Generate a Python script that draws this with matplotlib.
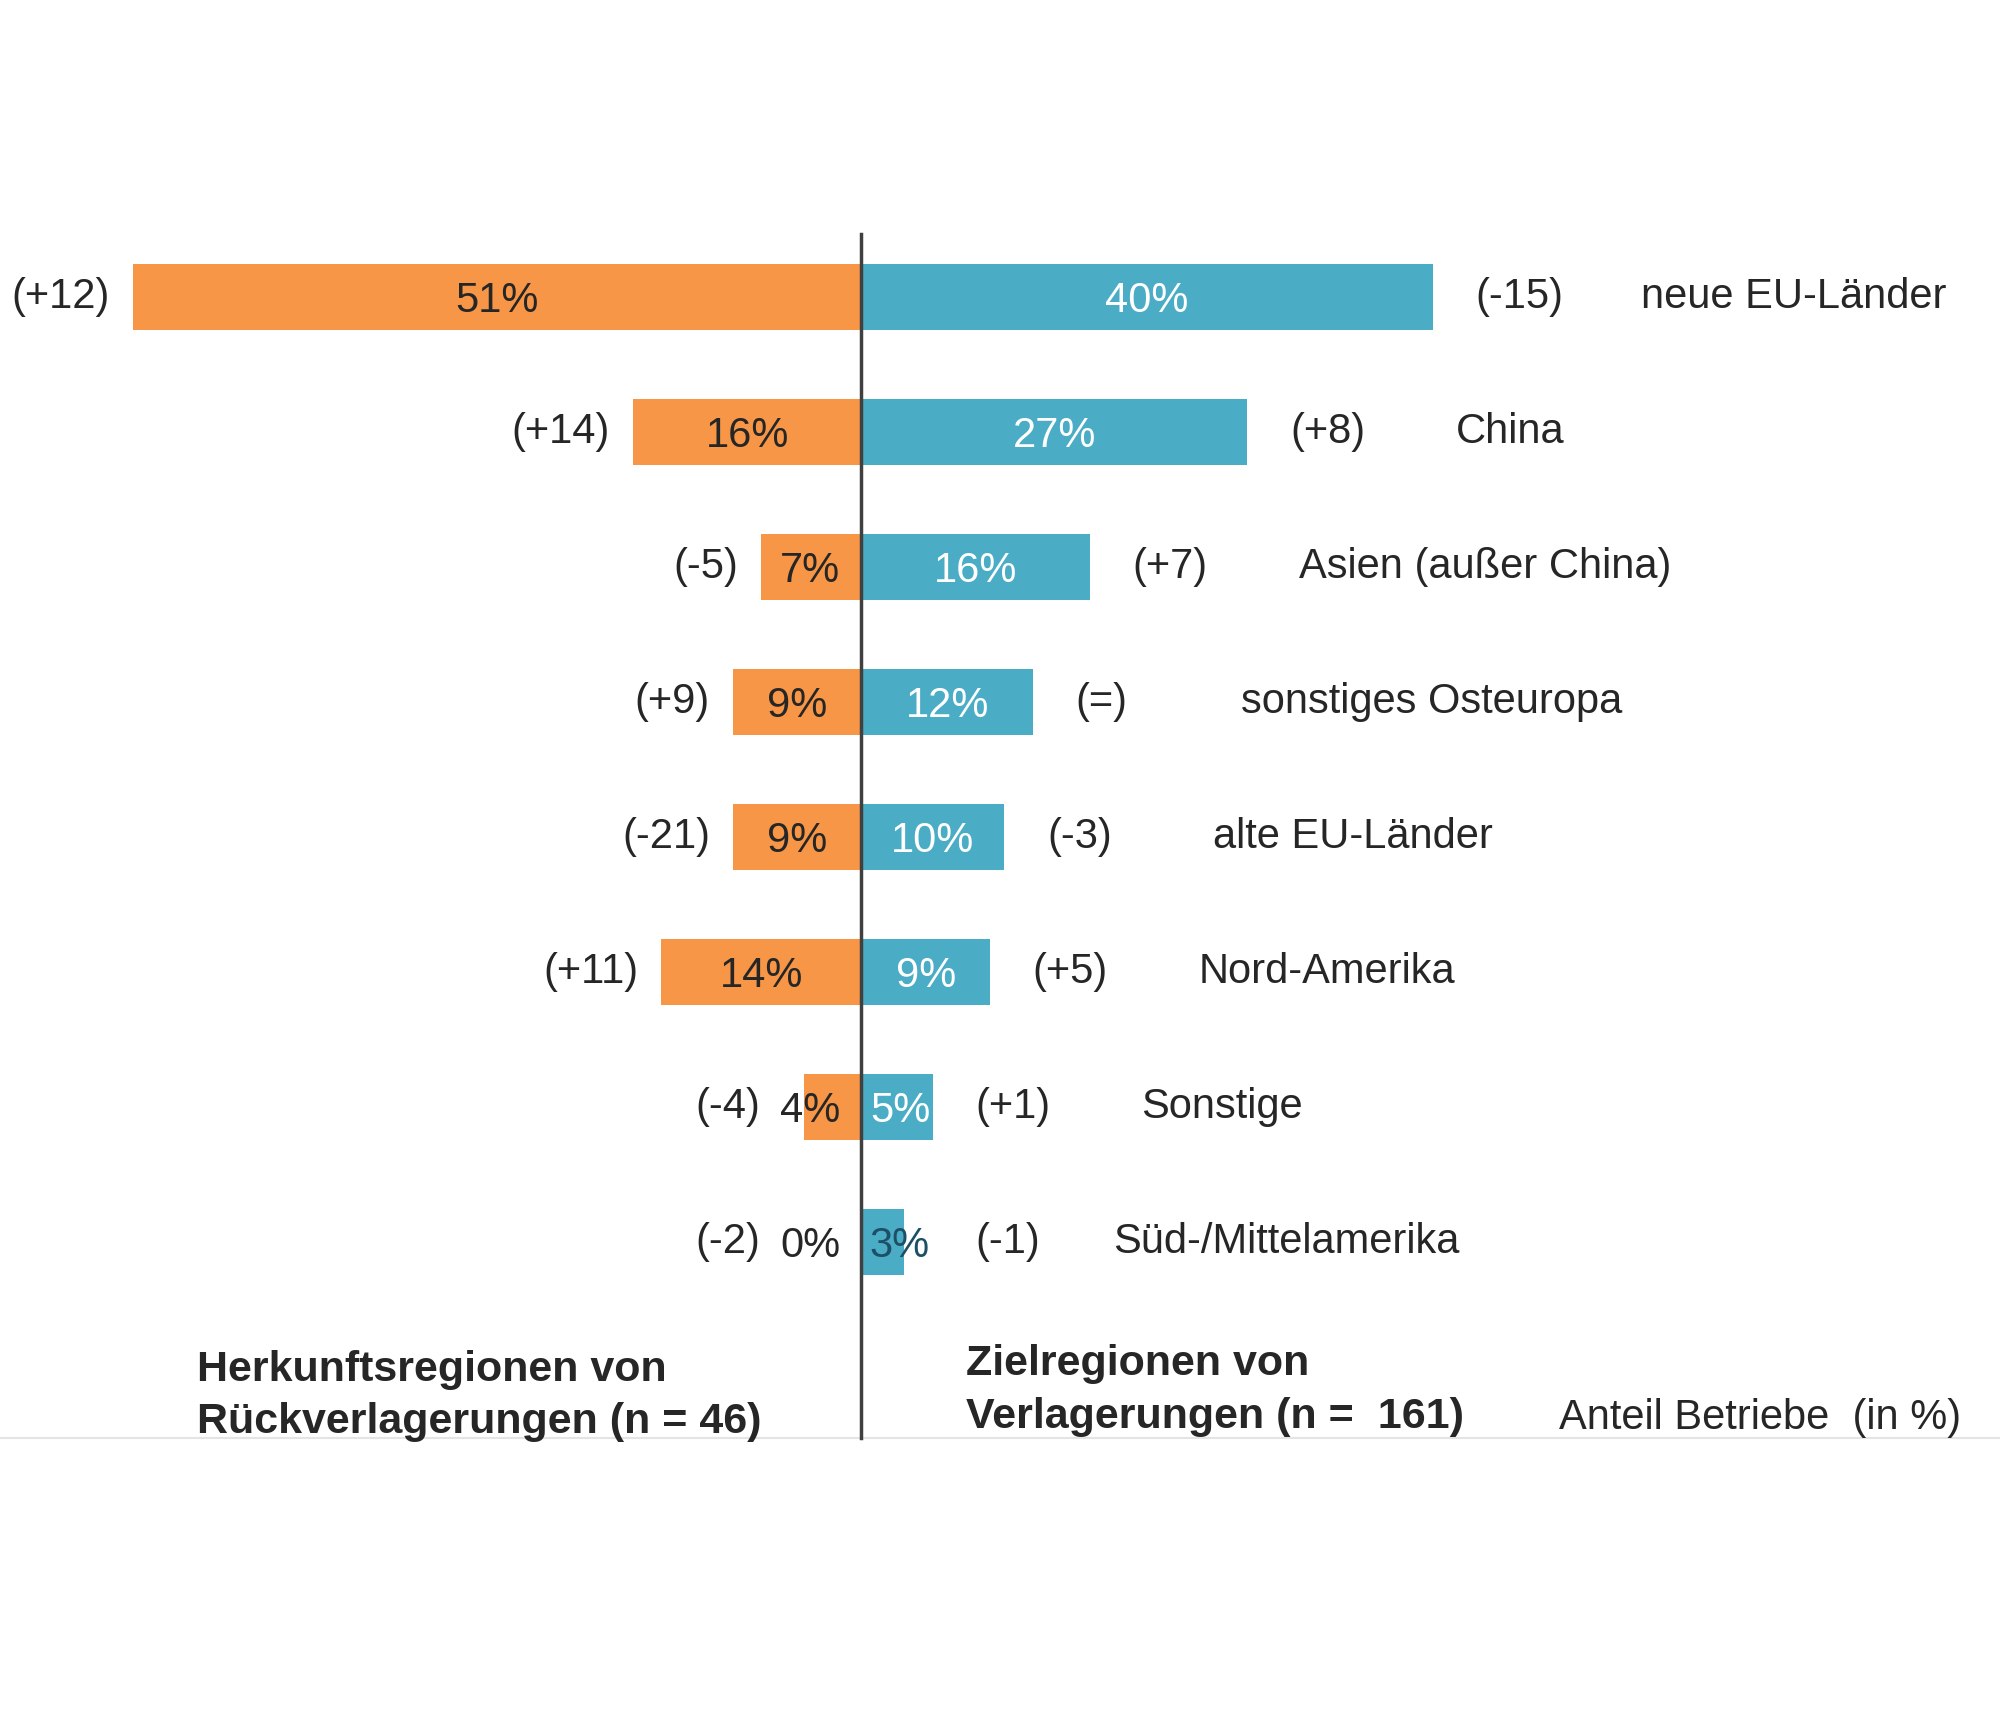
import matplotlib
matplotlib.use('Agg')
import matplotlib.pyplot as plt

plt.rcParams['font.family'] = ['Liberation Sans', 'DejaVu Sans']

# Data
regions = ['neue EU-Länder', 'China', 'Asien (außer China)', 'sonstiges Osteuropa',
           'alte EU-Länder', 'Nord-Amerika', 'Sonstige', 'Süd-/Mittelamerika']
back_share = [51, 16, 7, 9, 9, 14, 4, 0]          # Rückverlagerungen, %
back_change = ['(+12)', '(+14)', '(-5)', '(+9)', '(-21)', '(+11)', '(-4)', '(-2)']
out_share = [40, 27, 16, 12, 10, 9, 5, 3]         # Verlagerungen, %
out_change = ['(-15)', '(+8)', '(+7)', '(=)', '(-3)', '(+5)', '(+1)', '(-1)']

orange = '#F79646'
blue = '#4BACC6'
txt = '#262626'
fs = 30

fig = plt.figure(figsize=(20, 17.28), dpi=100)
ax = fig.add_axes([0, 0, 1, 1])
ax.set_xlim(-60.3, 79.7)
ax.set_ylim(10.6, -2.2)
ax.axis('off')

y = list(range(len(regions)))
ax.barh(y, [-v for v in back_share], height=0.49, color=orange, zorder=2)
ax.barh(y, out_share, height=0.49, color=blue, zorder=2)

for i in y:
    b, o = back_share[i], out_share[i]
    # value labels
    ax.text(-max(b / 2, 3.6), i + 0.03, f'{b}%', ha='center', va='center',
            fontsize=fs, color=txt, zorder=3)
    ax.text(max(o / 2, 2.7), i + 0.03, f'{o}%', ha='center', va='center',
            fontsize=fs, color='white' if o >= 5 else '#1d4f66', zorder=3)
    # changes vs. previous survey
    ax.text(-(max(b, 5.5) + 1.6), i, back_change[i], ha='right', va='center',
            fontsize=fs, color=txt)
    ax.text(max(o, 5) + 3.0, i, out_change[i], ha='left', va='center',
            fontsize=fs, color=txt)
    # region names
    ax.text(o + 14.6, i, regions[i], ha='left', va='center',
            fontsize=fs, color=txt)

# centre line and bottom rule
ax.plot([0, 0], [-0.47, 8.45], color='#404040', lw=2.5, zorder=4)
ax.axhline(8.45, color='#e4e4e4', lw=1.5, zorder=1)

ax.text(-46.5, 8.14, 'Herkunftsregionen von\nRückverlagerungen (n = 46)',
        ha='left', va='center', fontsize=31, fontweight='bold', color=txt,
        linespacing=1.4)
ax.text(7.3, 8.1, 'Zielregionen von\nVerlagerungen (n =  161)',
        ha='left', va='center', fontsize=31, fontweight='bold', color=txt,
        linespacing=1.45)
ax.text(48.8, 8.3, 'Anteil Betriebe  (in %)', ha='left', va='center',
        fontsize=fs, color=txt)

fig.savefig('out.png', dpi=100, facecolor='white')
